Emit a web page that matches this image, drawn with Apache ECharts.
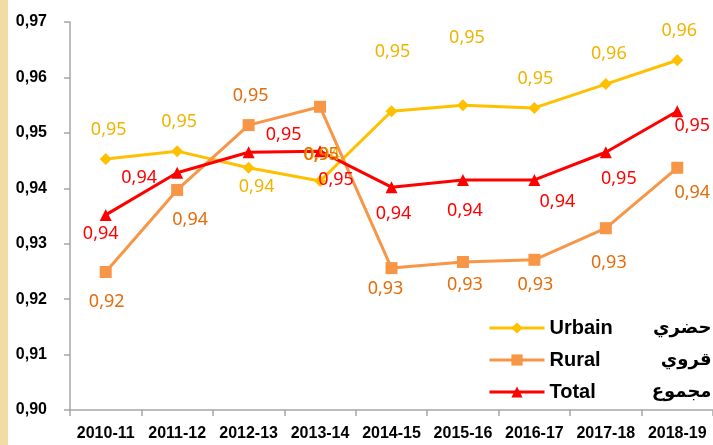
<!DOCTYPE html>
<html>
<head>
<meta charset="utf-8">
<script src="https://cdn.jsdelivr.net/npm/echarts@6/dist/echarts.min.js"></script>
<style>
html,body{margin:0;padding:0;background:#fff;}
#main{width:713px;height:445px;}
</style>
</head>
<body>
<div id="main"></div>
<script>
var years = ['2010-11','2011-12','2012-13','2013-14','2014-15','2015-16','2016-17','2017-18','2018-19'];
var urbain = [0.9453,0.9467,0.9437,0.9413,0.9539,0.9550,0.9545,0.9588,0.9631];
var rural  = [0.9249,0.9397,0.9514,0.9547,0.9256,0.9267,0.9271,0.9328,0.9437];
var total  = [0.9352,0.9428,0.9465,0.9467,0.9402,0.9415,0.9415,0.9465,0.9539];
var namesFr = ['Urbain','Rural','Total'];
var namesAr = ['حضري','قروي','مجموع'];
var yTicks = [0.90,0.91,0.92,0.93,0.94,0.95,0.96,0.97];

// label offsets (px from the point), as placed in the original
var urbainLbl = [[3,-29],[2,-29],[8,19],[2,-26],[1,-59],[4,-67],[1,-29],[3,-30],[2,-29]];
var ruralLbl  = [[1,30],[13,30],[2,-29],[1,48],[-6,21],[2,23],[1,25],[3,35],[15,25]];
var totalLbl  = [[-5,19],[-38,5],[35,-17],[16,29],[2,27],[2,31],[23,22],[13,27],[15,15]];

function fmt(v){
	return v.toFixed(2).replace('.', ',');
}

function points(vals, offs, color){
	var arr = [];
	for(var i = 0;i<vals.length;i++){
		arr.push({
			value: vals[i],
			label: {
				show: true,
				position: 'inside',
				offset: offs[i],
				color: color,
				fontFamily: 'Noto Sans',
				fontSize: 18,
				formatter: function(p){ return fmt(p.value); }
			}
		});
	}
	return arr;
}

function makeSeries(name, vals, offs, color, lblColor, symbol, size){
	return {
		name: name,
		type: 'line',
		data: points(vals, offs, lblColor),
		symbol: symbol,
		symbolSize: size,
		lineStyle: {color: color, width: 3},
		itemStyle: {color: color},
		emphasis: {disabled: true},
		animation: false
	};
}

var mycharts = echarts.init(document.getElementById('main'));
var option = {
	backgroundColor: '#fff',
	animation: false,
	graphic: [{
		type: 'rect',
		left: 0, top: 0,
		shape: {x: 0, y: 0, width: 8, height: 445},
		style: {fill: '#F3DBA6'}
	}],
	grid: {left: 70, top: 22, right: -4, bottom: 35},
	legend: {
		orient: 'vertical',
		left: 483,
		top: 313,
		itemWidth: 55,
		itemHeight: 14,
		itemGap: 12,
		data: namesFr,
		lineStyle: {width: 3},
		formatter: function(name){
			var i = namesFr.indexOf(name);
			return '{a|' + name + '}{b|' + namesAr[i] + '}';
		},
		textStyle: {
			rich: {
				a: {fontFamily: 'Liberation Sans', fontWeight: 'bold', fontSize: 20, color: '#000', width: 112, lineHeight: 21},
				b: {fontFamily: 'DejaVu Sans', fontWeight: 'bold', fontSize: 18, color: '#000', width: 50, align: 'right', lineHeight: 21}
			}
		}
	},
	xAxis: {
		type: 'category',
		data: years,
		axisLine: {lineStyle: {color: '#A6A6A6', width: 1.5}},
		axisTick: {show: true, length: 6, lineStyle: {color: '#A6A6A6', width: 1.5}},
		axisLabel: {
			color: '#000', fontFamily: 'Liberation Sans', fontWeight: 'bold', fontSize: 16,
			margin: 16, interval: 0
		}
	},
	yAxis: {
		type: 'value',
		min: yTicks[0],
		max: yTicks[yTicks.length - 1],
		interval: 0.01,
		axisLine: {show: true, lineStyle: {color: '#A6A6A6', width: 1.5}},
		axisTick: {show: true, length: 6, lineStyle: {color: '#A6A6A6', width: 1.5}},
		splitLine: {show: false},
		axisLabel: {
			color: '#000', fontFamily: 'Liberation Sans', fontWeight: 'bold', fontSize: 16,
			margin: 23,
			formatter: function(v){ return fmt(v); }
		}
	},
	series: [
		makeSeries('Urbain', urbain, urbainLbl, '#FFC000', '#F0B400', 'diamond', 12),
		makeSeries('Rural', rural, ruralLbl, '#F79646', '#E46C0A', 'rect', 12),
		makeSeries('Total', total, totalLbl, '#FF0000', '#FF0000', 'triangle', 12)
	]
};
mycharts.setOption(option);
</script>
</body>
</html>
